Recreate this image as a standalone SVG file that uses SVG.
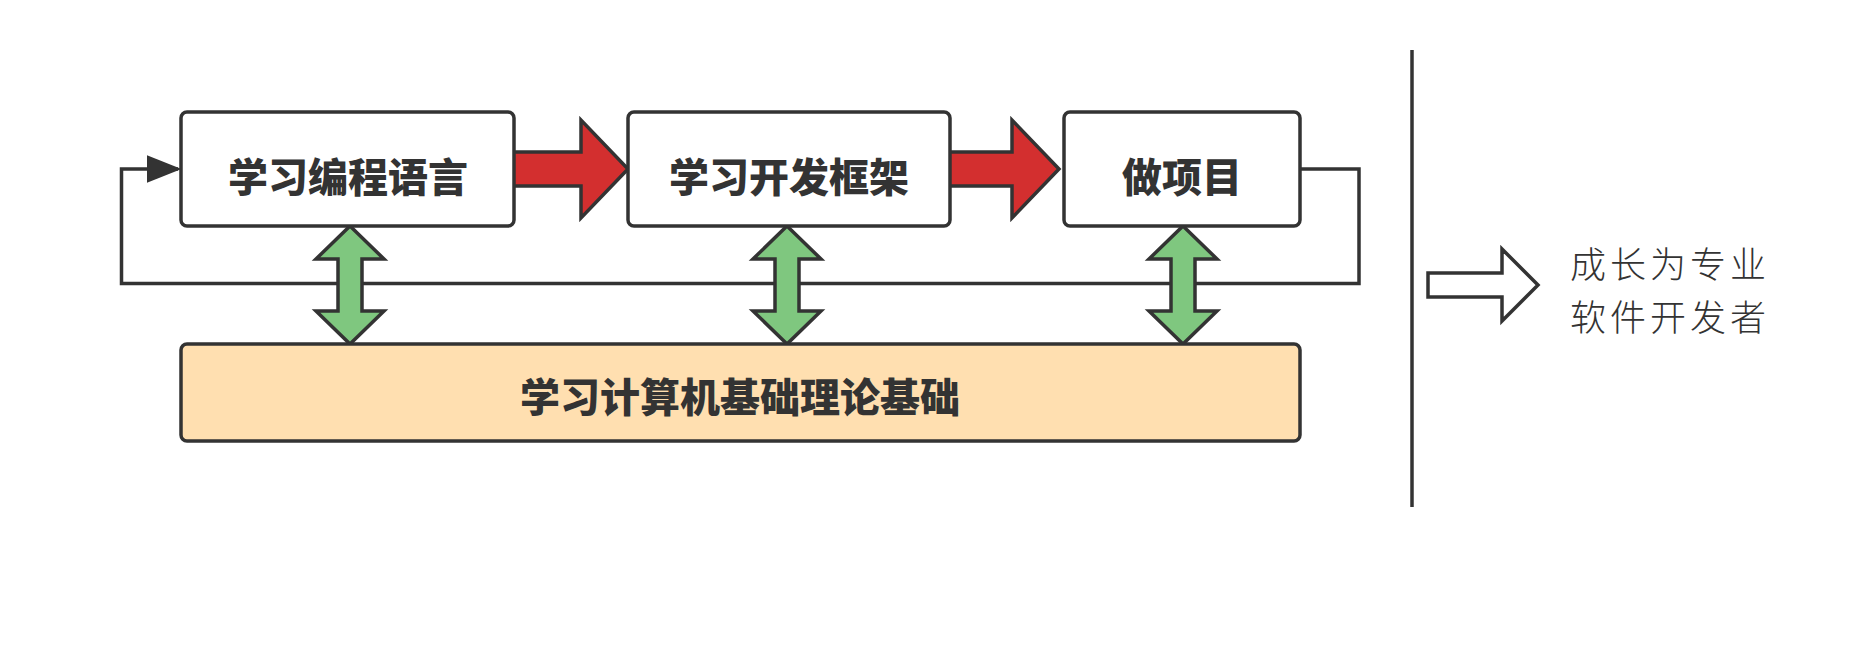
<svg xmlns="http://www.w3.org/2000/svg" width="1868" height="649" viewBox="0 0 1868 649">
<style>
.box{fill:#ffffff;stroke:#333333;stroke-width:3.5}
.base{fill:#ffdfb0;stroke:#333333;stroke-width:3.5}
.t{font-family:"Noto Sans CJK SC","Noto Sans",sans-serif;font-weight:900;font-size:40px;fill:#333333;text-anchor:middle;dominant-baseline:central}
.r{font-family:"Noto Sans CJK SC","Noto Sans",sans-serif;font-weight:300;font-size:36px;letter-spacing:4px;fill:#333333}
.red{fill:#d32f2f;stroke:#333333;stroke-width:3.5;stroke-linejoin:miter}
.grn{fill:#7fc77f;stroke:#333333;stroke-width:3.5}
.line{fill:none;stroke:#333333;stroke-width:3.5}
</style>
<defs>
<marker id="ah" markerWidth="10" markerHeight="8" refX="9" refY="4" orient="auto" markerUnits="strokeWidth">
<path d="M0,0 L10,4 L0,8 Z" fill="#333333"/>
</marker>
</defs>
<g id="connectors">
<path class="line" d="M1300,169 H1359 V283.5 H121.5 V169 H178" marker-end="url(#ah)"/>
<path class="red" d="M513,152 H581 V120 L628,169 L581,218 V186 H513 Z"/>
<path class="red" d="M949,152 H1012 V120 L1059,169 L1012,218 V186 H949 Z"/>
<path class="grn" d="M350,226 L384,259 H362 V311 H384 L350,344 L316,311 H338 V259 H316 Z"/>
<path class="grn" d="M787,226 L821,259 H799 V311 H821 L787,344 L753,311 H775 V259 H753 Z"/>
<path class="grn" d="M1183,226 L1217,259 H1195 V311 H1217 L1183,344 L1149,311 H1171 V259 H1149 Z"/>
<path class="line" d="M1412,50 V507"/>
<path fill="#ffffff" stroke="#333333" stroke-width="3.5" d="M1428,273 H1502 V249 L1538,285 L1502,321 V297 H1428 Z"/>
</g>
<g id="node-lang">
<rect class="box" x="181" y="112" width="333" height="114" rx="6"/>
<text class="t" x="348" y="175">学习编程语言</text>
</g>
<g id="node-framework">
<rect class="box" x="628" y="112" width="322" height="114" rx="6"/>
<text class="t" x="789" y="175">学习开发框架</text>
</g>
<g id="node-project">
<rect class="box" x="1064" y="112" width="236" height="114" rx="6"/>
<text class="t" x="1182" y="175">做项目</text>
</g>
<g id="node-base">
<rect class="base" x="181" y="344" width="1119" height="97" rx="6"/>
<text class="t" x="740" y="395">学习计算机基础理论基础</text>
</g>
<g id="node-goal">
<text class="r"><tspan x="1570" y="278">成长为专业</tspan><tspan x="1570" y="331">软件开发者</tspan></text>
</g>
</svg>
